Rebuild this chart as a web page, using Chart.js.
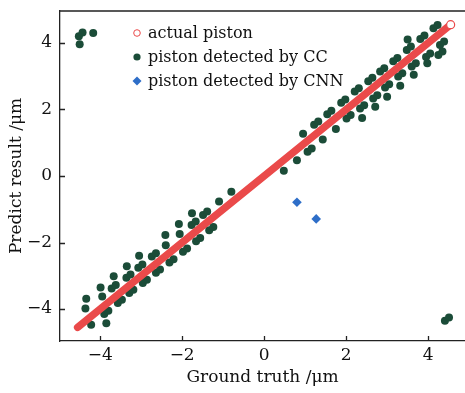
<!DOCTYPE html>
<html>
<head>
<meta charset="UTF-8">
<title>Piston prediction scatter</title>
<style type="text/css">
  html, body { margin: 0; padding: 0; background: #fff; }
  #chart-container { width: 465px; height: 393px; }
</style>
<script type="text/javascript" src="https://cdn.jsdelivr.net/npm/chart.js@4.4.0/dist/chart.umd.min.js"></script>
</head>
<body>
<div id="chart-container">
  <canvas id="mycanvas"></canvas>
</div>
<script>
// tick labels
var xTicks = [-4, -2, 0, 2, 4];
var yTicks = [-4, -2, 0, 2, 4];

// actual piston (ground truth = prediction)
var actualX = [-4.55, -3.5, -2.5, -1.5, -0.5, 0.5, 1.5, 2.5, 3.5, 4.55];
var actualY = [-4.55, -3.5, -2.5, -1.5, -0.5, 0.5, 1.5, 2.5, 3.5, 4.55];

// piston detected by CC
var ccX = [
  -4.52, -4.43, -4.17, -4.50, 4.41, 4.51,
  -4.34, -3.99, -3.67, -3.35, -3.05, -2.41, -2.08, -1.76,
  -4.36, -3.95, -3.72, -3.62, -3.36, -3.26, -3.07, -2.97, -2.74, -2.64,
  -2.40, -2.06, -1.77, -1.67, -1.49, -1.39, -1.10, -0.80,
  -4.22, -3.90, -3.80, -3.57, -3.47, -3.29, -3.19, -2.96, -2.86,
  -2.64, -2.54, -2.31, -2.21, -1.98, -1.88, -1.66, -1.56, -1.34, -1.24,
  -3.85,
  0.48, 0.80, 1.06, 1.16, 1.43, 1.75, 2.01, 2.11, 2.34, 2.44, 2.66, 2.76,
  2.95, 3.05, 3.27, 3.37, 3.60, 3.70, 3.95, 4.05, 4.29, 4.39,
  2.39, 2.71, 3.00, 3.32, 3.65, 3.98, 4.25, 4.35,
  0.95, 1.22, 1.32, 1.54, 1.64, 1.88, 1.98, 2.21, 2.31, 2.54, 2.64,
  2.83, 2.93, 3.15, 3.25, 3.48, 3.58, 3.81, 3.91, 4.13, 4.23,
  3.50
];
var ccY = [
  4.20, 4.31, 4.30, 3.96, -4.35, -4.25,
  -3.69, -3.35, -3.01, -2.71, -2.40, -1.77, -1.44, -1.12,
  -3.98, -3.62, -3.38, -3.28, -3.06, -2.96, -2.76, -2.66, -2.42, -2.32,
  -2.08, -1.74, -1.47, -1.37, -1.17, -1.07, -0.77, -0.47,
  -4.47, -4.15, -4.05, -3.82, -3.72, -3.52, -3.42, -3.22, -3.12,
  -2.91, -2.81, -2.60, -2.50, -2.28, -2.18, -1.96, -1.86, -1.63, -1.53,
  -4.43,
  0.16, 0.47, 0.73, 0.83, 1.10, 1.41, 1.73, 1.83, 2.03, 2.13, 2.33, 2.43,
  2.66, 2.76, 2.99, 3.09, 3.29, 3.39, 3.58, 3.68, 3.94, 4.04,
  1.74, 2.08, 2.38, 2.71, 3.04, 3.39, 3.64, 3.74,
  1.27, 1.54, 1.64, 1.86, 1.96, 2.20, 2.30, 2.54, 2.64, 2.85, 2.95,
  3.14, 3.24, 3.45, 3.55, 3.79, 3.89, 4.12, 4.22, 4.44, 4.54,
  4.10
];

// piston detected by CNN
var cnnX = [0.80, 1.27];
var cnnY = [-0.79, -1.29];

function pts(xs, ys) {
  var out = [];
  for (var i = 0; i < xs.length; i++) out.push({x: xs[i], y: ys[i]});
  return out;
}

var RED = 'rgb(234, 74, 74)';
var GREEN = 'rgb(27, 76, 56)';
var BLUE = 'rgb(46, 110, 200)';
var FONT = '"DejaVu Serif", serif';

// inward ticks, top frame line and the legend inside the plot
var framePlugin = {
  id: 'frame',
  afterDraw: function(chart) {
    var ctx = chart.ctx, a = chart.chartArea;
    var xs = chart.scales.x, ys = chart.scales.y;
    ctx.save();
    ctx.strokeStyle = '#222';
    ctx.lineWidth = 1.3;
    ctx.beginPath();
    ctx.moveTo(a.left, a.top);
    ctx.lineTo(a.right, a.top);
    xTicks.forEach(function(v) {
      var px = Math.round(xs.getPixelForValue(v)) + 0.5;
      ctx.moveTo(px, a.bottom);
      ctx.lineTo(px, a.bottom - 5);
    });
    yTicks.forEach(function(v) {
      var py = Math.round(ys.getPixelForValue(v)) + 0.5;
      ctx.moveTo(a.left, py);
      ctx.lineTo(a.left + 5, py);
    });
    ctx.stroke();

    // legend
    var lx = 137, ly = [33, 57, 81];
    ctx.font = '16px ' + FONT;
    ctx.fillStyle = '#111';
    ctx.textBaseline = 'middle';
    chart.data.datasets.forEach(function(ds, i) {
      ctx.fillText(ds.label, lx + 11, ly[i] + 1);
    });
    ctx.beginPath();
    ctx.arc(lx, ly[0], 3.3, 0, Math.PI * 2);
    ctx.fillStyle = '#fff';
    ctx.fill();
    ctx.strokeStyle = RED;
    ctx.lineWidth = 1;
    ctx.stroke();
    ctx.beginPath();
    ctx.arc(lx, ly[1], 3.6, 0, Math.PI * 2);
    ctx.fillStyle = GREEN;
    ctx.fill();
    ctx.beginPath();
    ctx.moveTo(lx, ly[2] - 4.5);
    ctx.lineTo(lx + 4.5, ly[2]);
    ctx.lineTo(lx, ly[2] + 4.5);
    ctx.lineTo(lx - 4.5, ly[2]);
    ctx.closePath();
    ctx.fillStyle = BLUE;
    ctx.fill();
    ctx.restore();
  }
};

var ctx = document.getElementById('mycanvas');
var last = actualX.length - 1;

var chart = new Chart(ctx, {
  type: 'scatter',
  data: {
    datasets: [
      {
        label: 'actual piston',
        data: pts(actualX, actualY),
        showLine: true,
        borderColor: RED,
        borderWidth: 7.5,
        borderCapStyle: 'round',
        pointRadius: function(c) { return c.dataIndex === last ? 4 : 0; },
        pointBackgroundColor: '#fff',
        pointBorderColor: RED,
        pointBorderWidth: 1.2
      },
      {
        label: 'piston detected by CC',
        data: pts(ccX, ccY),
        backgroundColor: GREEN,
        borderWidth: 0,
        pointRadius: 4
      },
      {
        label: 'piston detected by CNN',
        data: pts(cnnX, cnnY),
        pointStyle: 'rectRot',
        backgroundColor: BLUE,
        borderWidth: 0,
        pointRadius: 4.8
      }
    ]
  },
  options: {
    responsive: true,
    maintainAspectRatio: false,
    animation: false,
    layout: { autoPadding: false, padding: { top: 11, right: 0, left: 0, bottom: 0 } },
    plugins: { legend: { display: false }, tooltip: { enabled: false } },
    scales: {
      x: {
        type: 'linear',
        min: -4.98,
        max: 4.9,
        afterFit: function(s) { s.height = 52; s.paddingLeft = 0; s.paddingRight = 0; },
        afterBuildTicks: function(s) { s.ticks = xTicks.map(function(v) { return {value: v}; }); },
        grid: { display: false, drawTicks: false },
        border: { display: true, color: '#222', width: 1.3 },
        ticks: {
          padding: 4,
          color: '#111',
          font: { family: FONT, size: 17 },
          callback: function(v) { return String(v).replace('-', '\u2212'); }
        },
        title: {
          display: true,
          text: 'Ground truth /\u03bcm',
          color: '#111',
          font: { family: FONT, size: 17 },
          padding: { top: 0, bottom: 5 }
        }
      },
      y: {
        type: 'linear',
        min: -4.96,
        max: 4.96,
        afterFit: function(s) { s.width = 60; s.paddingTop = 0; s.paddingBottom = 0; },
        afterBuildTicks: function(s) { s.ticks = yTicks.map(function(v) { return {value: v}; }); },
        grid: { display: false, drawTicks: false },
        border: { display: true, color: '#222', width: 1.3 },
        ticks: {
          padding: 8,
          color: '#111',
          font: { family: FONT, size: 17 },
          callback: function(v) { return String(v).replace('-', '\u2212'); }
        },
        title: {
          display: true,
          text: 'Predict result /\u03bcm',
          color: '#111',
          font: { family: FONT, size: 17 },
          padding: { top: 6, bottom: 0 }
        }
      }
    }
  },
  plugins: [framePlugin]
});
</script>
</body>
</html>
